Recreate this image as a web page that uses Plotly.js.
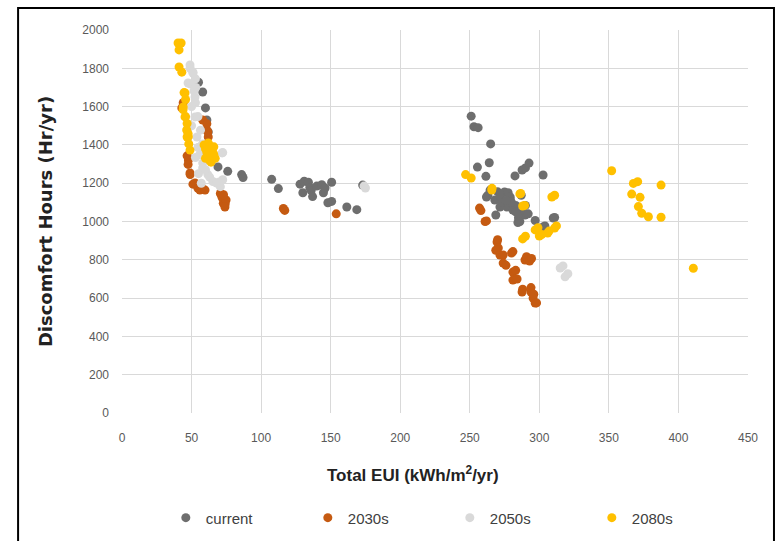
<!DOCTYPE html>
<html>
<head>
<meta charset="utf-8">
<script src="https://cdn.plot.ly/plotly-3.0.1.min.js"></script>
<style>html,body{margin:0;padding:0;background:#fff;}#chart{width:775px;height:541px;}</style>
</head>
<body>
<div id="chart"></div>
<script>
// ---- data ----
const seriesNames = ["current", "2030s", "2050s", "2080s"];
const xTitle = "Total EUI (kWh/m<sup>2</sup>/yr)";
const yTitle = "Discomfort Hours (Hr/yr)";

const currentX = [55,58,60,61,62,69,76,86,87,
  107.6,112.4,128,130,131,134,135,136,137,140,143.6,144.8,146,148,150.7,150.7,161.6,168.8,173,
  251,253,256,255.5,261.6,264,265,263,262,264.6,268,270,268.7,275,276.6,277.6,279,281,283,284.6,287.5,289.7,290,287,282.5,287.6,290,292.6,302.7,297,302.7,304,310,311,271.7,279,273,285,280,292,286,272,283,276];
const currentY = [1727,1676,1593,1530,1468,1285,1262,1245,1230,
  1220,1172,1195,1150,1210,1205,1178,1162,1130,1185,1192,1150,1175,1098,1205,1105,1076,1062,1190,
  1550,1495,1490,1284,1236,1307,1405,1137,1128,1164,1112,1155,1034,1154,1076,1150,1120,1060,1084,995,1048,1034,1084,1137,1238,1269,1280,1305,1243,1005,971,977,1018,1021,1076,1128,1100,1020,1100,1040,1000,1130,1050,1110];

const s2030X = [44,43,46.8,47.7,47.5,48.9,49,51,52.5,54.6,56,58,59.7,58,61,61,62,61.7,70.7,71.7,72.4,72.8,74.2,74.8,74,73,
  116,117,154,
  257,258,261,262,269.6,270,270.5,268.7,271.7,274,274,276,280,281,281,283,281,284,288,289.7,290.8,293,294.4,287.6,294,294,295.5,296,297,298];
const s2030Y = [1620,1593,1343,1321,1298,1253,1245,1195,1201,1173,1164,1170,1164,1530,1510,1478,1441,1468,1146,1130,1120,1095,1093,1112,1076,1140,
  1068,1058,1040,
  1070,1057,1000,1003,893,905,862,850,825,825,783,771,835,843,736,745,694,700,646,799,816,794,807,632,632,655,600,620,574,575];

const s2050X = [48.9,49,51,51,52.8,47.5,49.3,51.7,52.5,52.8,52.5,54.6,56.4,53.9,58,56,54.6,52.8,58,58,61.7,63,65.3,68.9,70,72.4,70.7,72,72.4,68,55,57,50,50,53,56,60,
  175,174,
  315,317,318.5,320.5];
const s2050Y = [1817,1800,1775,1780,1745,1723,1718,1682,1650,1620,1546,1548,1477,1441,1405,1389,1387,1334,1305,1280,1245,1232,1209,1200,1206,1218,1182,1358,1360,1201,1250,1200,1500,1600,1700,1350,1270,
  1175,1185,
  757,768,711,727];

const s2080X = [40.3,42.5,41,41,43,44.6,45.3,45.7,43.9,44,45.3,45.7,46.8,46.5,47.5,46.8,47.7,48,48.9,59,60,61,62,63,64,65,66,67,60,62,64,66,63,
  247,251,265.8,266,286,286.6,288,289.4,288,290,297,299,300,301.7,306,307,309,311,311,312.3,
  352,367.6,370.7,387.5,366.4,372.4,371.2,373.6,378.4,387.5,410.7];
const s2080Y = [1932,1932,1896,1807,1780,1673,1671,1637,1584,1598,1546,1548,1512,1478,1459,1441,1443,1405,1373,1400,1380,1360,1340,1320,1390,1370,1350,1330,1330,1410,1310,1390,1358,
  1245,1227,1164,1173,1144,1146,1081,1084,909,923,956,968,924,932,940,950,1128,1137,966,977,
  1265,1199,1208,1190,1143,1126,1078,1043,1025,1022,756];

const xTicks = [0,50,100,150,200,250,300,350,400,450];
const yTicks = [0,200,400,600,800,1000,1200,1400,1600,1800,2000];

// ---- styling ----
const colors = ["#6e6e6e", "#c55a11", "#d9d9d9", "#ffc000"];
const xs = [currentX, s2030X, s2050X, s2080X];
const ys = [currentY, s2030Y, s2050Y, s2080Y];

const traces = seriesNames.map((n, i) => ({
  type: "scatter", mode: "markers", name: n,
  x: xs[i], y: ys[i],
  marker: {color: colors[i], size: 9, line: {width: 0}},
  hoverinfo: "x+y"
}));

const sans = "'Liberation Sans', Arial, sans-serif";

const layout = {
  width: 775, height: 541,
  margin: {l: 122, r: 27, t: 30, b: 128, autoexpand: false},
  paper_bgcolor: "#ffffff", plot_bgcolor: "#ffffff",
  showlegend: true,
  xaxis: {
    range: [0, 450], autorange: false, automargin: false,
    tickvals: xTicks, ticktext: xTicks.map(String),
    showgrid: true, gridcolor: "#d9d9d9", gridwidth: 1,
    zeroline: false, showline: false, ticks: "",
    tickfont: {family: sans, size: 12, color: "#595959"},
    ticklabelstandoff: 16
  },
  yaxis: {
    range: [0, 2000], autorange: false, automargin: false,
    tickvals: yTicks, ticktext: yTicks.map(String),
    showgrid: true, gridcolor: "#d9d9d9", gridwidth: 1,
    zeroline: false, showline: false, ticks: "",
    tickfont: {family: sans, size: 12, color: "#595959"},
    ticklabelstandoff: 12,
    title: {text: yTitle, standoff: 24,
      font: {family: "'DejaVu Sans', Verdana, sans-serif", size: 18, color: "#222222", weight: "bold"}}
  },
  annotations: [{
    text: xTitle, xref: "paper", yref: "paper",
    x: (413 - 122) / 626, y: -(474 - 413) / 383,
    xanchor: "center", yanchor: "middle", showarrow: false,
    font: {family: sans, size: 17, color: "#222222", weight: "bold"}
  }],
  legend: {
    orientation: "h", x: 0.07, xanchor: "left",
    y: -0.274, yanchor: "middle",
    font: {family: sans, size: 15, color: "#404040"},
    entrywidth: 97, entrywidthmode: "pixels",
    itemclick: false, bgcolor: "rgba(0,0,0,0)", borderwidth: 0
  },
  shapes: [{
    type: "path", xref: "paper", yref: "paper",
    path: "M -0.166 -0.5 L -0.166 1.0574 L 1.0415 1.0574 L 1.0415 -0.5",
    line: {color: "#000000", width: 2}, fillcolor: "rgba(0,0,0,0)"
  }]
};

Plotly.newPlot("chart", traces, layout, {staticPlot: true, displayModeBar: false});
</script>
</body>
</html>
